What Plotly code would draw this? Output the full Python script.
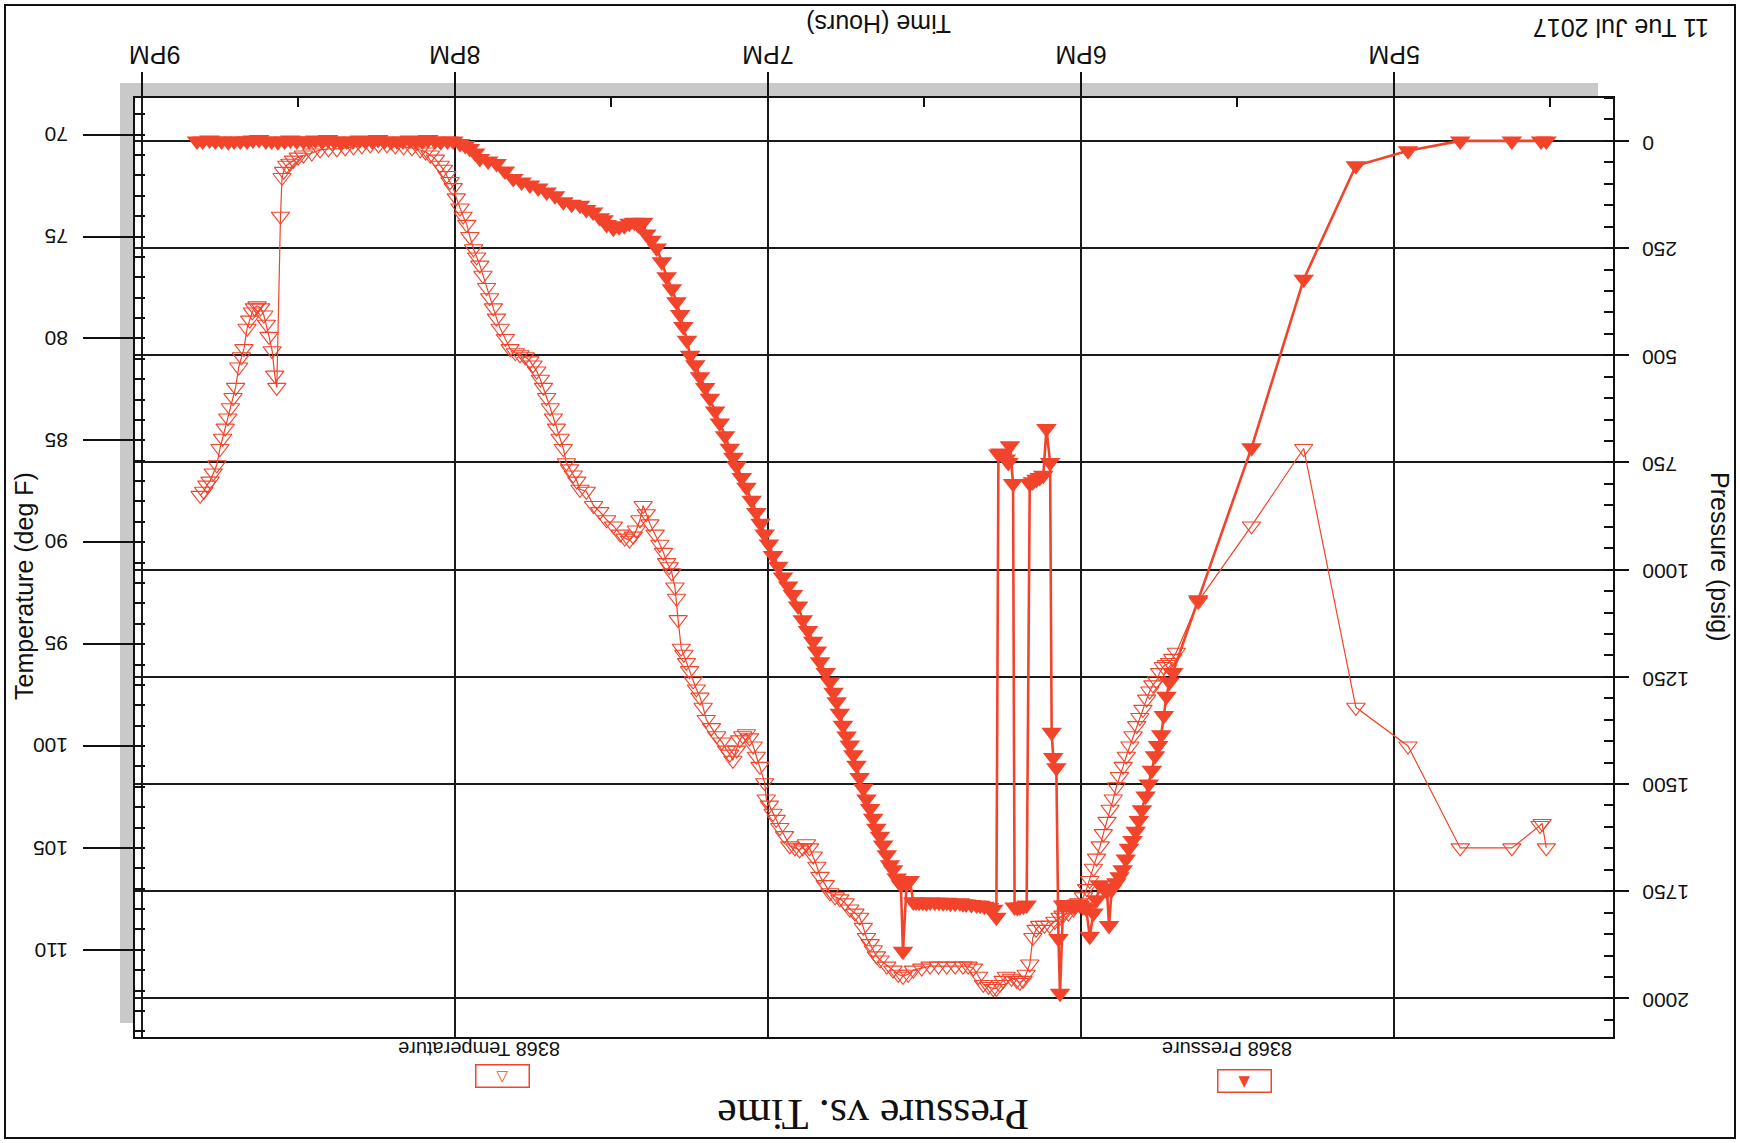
import plotly.graph_objects as go
import pandas as pd

# ---------------- data ----------------
BASE_TIME = pd.Timestamp("2017-07-11 17:00:00")   # minutes below are offsets from 5PM

pressure_minutes = [-29.2, -28.2, -22.6, -12.7, -2.7, 7.3, 17.3, 27.3, 37.5,
                    42.3, 43.0, 43.6, 44.1, 44.6, 45.2, 45.8, 46.4, 47.0, 47.6, 48.3, 48.9, 49.5,
                    50.1, 50.8, 51.4, 52.0, 52.6, 53.2, 54.1, 54.6, 55.0, 55.7, 56.4, 57.0, 57.6,
                    58.3, 59.0, 59.6, 60.2, 60.7, 61.2, 61.7, 62.1, 62.8, 63.4, 64.0, 64.3, 64.7,
                    65.3, 65.6, 65.9, 66.6, 67.2, 67.9, 68.5, 69.2, 69.8, 70.4, 71.0, 71.7, 72.2,
                    72.7, 73.0, 73.6, 73.9, 74.4, 74.9, 75.4, 75.8, 76.2, 76.8, 77.6, 78.5, 79.3,
                    80.0, 81.0, 82.0, 82.6, 83.2, 84.1, 85.0, 85.7, 86.4, 87.2, 88.0, 88.9, 89.6,
                    90.3, 91.0, 91.6, 92.1, 92.8, 93.4, 94.1, 94.5, 95.3, 96.0, 96.6, 97.2, 97.9,
                    98.5, 99.2, 99.8, 100.4, 101.1, 101.7, 102.4, 103.0, 103.6, 104.3, 104.9,
                    105.6, 106.2, 106.8, 107.4, 108.1, 108.9, 110.0, 110.6, 111.3, 112.3, 113.3,
                    114.2, 115.2, 116.1, 117.1, 118.0, 119.0, 119.8, 120.6, 121.4, 122.2, 123.1,
                    124.1, 125.0, 126.0, 126.6, 127.3, 128.2, 129.2, 130.1, 131.1, 132.0, 133.0,
                    133.9, 134.9, 135.5, 136.2, 136.8, 137.5, 138.4, 139.4, 140.3, 141.3, 142.3,
                    143.3, 143.9, 144.8, 145.6, 146.5, 147.5, 148.5, 149.6, 150.9, 151.5, 152.2,
                    153.5, 154.8, 156.0, 157.6, 159.2, 160.8, 162.4, 164.0, 165.6, 167.2, 168.8,
                    170.4, 172.0, 173.6, 175.2, 176.1, 177.1, 178.0, 179.0, 180.3, 181.4, 182.7,
                    183.8, 185.1, 186.2, 187.5, 188.6, 189.9, 191.1, 192.2, 193.5, 194.7, 195.8,
                    197.1, 198.2, 199.5, 200.7, 201.8, 203.1, 204.3, 205.4, 206.7, 207.9, 209.0,
                    210.3, 211.5, 212.6, 213.9, 215.1, 216.2, 217.5, 218.7, 219.8, 221.1, 222.3,
                    223.4, 224.7, 225.9, 227.0, 228.3, 229.4]
pressure_psig = [0, 0, 0, 0, 23, 58, 323, 716, 1070,
                 1240, 1262, 1295, 1340, 1385, 1410, 1434, 1468, 1500, 1528, 1560, 1585, 1610,
                 1632, 1650, 1675, 1700, 1716, 1730, 1746, 1830, 1750, 1742, 1735, 1770, 1801,
                 1855, 1790, 1786, 1782, 1780, 1785, 1784, 1782, 1781, 1782, 1988, 1860, 1462,
                 1438, 1379, 750, 671, 780, 785, 789, 795, 799, 1782, 1785, 1787, 1788,
                 1787, 799, 711, 750, 742, 730, 728, 730, 1811, 1792, 1788, 1785, 1783,
                 1782, 1781, 1780, 1779, 1777, 1778, 1778, 1776, 1777, 1776, 1776, 1775, 1777,
                 1776, 1776, 1775, 1775, 1725, 1733, 1890, 1735, 1719, 1700, 1688, 1665, 1642,
                 1622, 1603, 1580, 1557, 1535, 1510, 1485, 1456, 1432, 1409, 1388,
                 1363, 1335, 1308, 1286, 1262, 1240, 1215, 1190, 1167, 1142, 1117,
                 1085, 1058, 1038, 1017, 992, 967, 940, 917, 892, 867, 838,
                 808, 785, 758, 738, 717, 688, 658, 630, 600, 575, 550,
                 522, 500, 465, 433, 405, 375, 345, 317, 282, 250, 232,
                 217, 190, 196, 190, 192, 198, 200, 204, 195, 184, 179,
                 166, 160, 150, 148, 142, 128, 119, 110, 103, 96, 88,
                 70, 53, 47, 41, 28, 18, 11, 6, 0, 0, 2,
                 0, -3, 0, 0, -2, 0, 0, 2, 0, -3, 0,
                 0, -2, 0, 0, 2, 0, -3, 0, -2, 0, 0,
                 0, -2, 0, 2, 0, 0, -3, -2, 0, 0, 0,
                 2, 0, 0, -2, 0, 0]

temperature_minutes = [-29.2, -28.4, -28.0, -22.6, -12.7, -2.7, 7.3, 17.3, 27.3, 37.5,
                       41.7, 42.4, 43.0, 43.6, 44.2, 44.9, 45.5, 46.2, 46.8, 47.4, 48.1, 48.7,
                       49.3, 50.0, 50.6, 51.3, 51.9, 52.6, 53.2, 53.8, 54.4, 55.0, 55.7, 56.3,
                       57.0, 57.6, 58.3, 58.9, 59.5, 60.4, 61.4, 62.4, 63.4, 64.0, 65.0, 66.0,
                       67.0, 67.9, 68.6, 69.2, 69.8, 70.5, 71.1, 71.7, 72.3, 73.3, 74.3, 74.9,
                       75.5, 76.2, 76.8, 77.7, 78.7, 79.6, 80.6, 81.6, 82.6, 84.1, 85.7, 87.3,
                       88.9, 90.5, 92.1, 93.1, 94.1, 95.0, 96.0, 97.2, 98.5, 99.2, 99.8, 100.4,
                       101.1, 101.7, 102.4, 103.3, 104.3, 105.2, 106.2, 107.1, 108.1, 109.0, 110.0,
                       110.6, 111.3, 112.0, 112.6, 113.3, 113.9, 114.8, 115.8, 116.8, 117.7, 118.4,
                       119.0, 119.7, 120.3, 120.6, 121.5, 122.2, 122.8, 123.5, 124.1, 124.8, 125.4,
                       126.0, 126.7, 127.3, 127.9, 128.8, 129.8, 130.8, 131.8, 132.4, 133.0, 133.7,
                       134.3, 135.0, 135.6, 136.1, 136.6, 137.2, 137.5, 137.8, 138.4, 138.9, 139.4,
                       140.0, 140.7, 141.6, 142.6, 143.3, 143.9, 144.5, 145.2, 145.8, 146.5, 147.4,
                       148.3, 149.6, 150.9, 152.2, 153.4, 154.8, 156.0, 156.6, 157.3, 158.0, 158.6,
                       159.2, 159.8, 160.5, 161.1, 161.7, 162.4, 163.0, 163.6, 164.3, 165.0, 165.6,
                       166.5, 167.5, 168.4, 169.4, 170.3, 171.3, 172.0, 172.6, 173.3, 173.9, 174.6,
                       175.2, 175.8, 176.4, 177.1, 177.7, 178.4, 179.0, 179.7, 180.3, 180.9, 181.5,
                       182.2, 182.8, 183.7, 184.7, 185.6, 186.6, 188.2, 189.8, 191.4, 193.0, 194.6,
                       196.2, 197.8, 199.4, 201.0, 202.6, 204.2, 205.8, 207.4, 209.0, 210.0, 210.9,
                       211.6, 212.2, 212.8, 213.1, 213.4, 214.1, 214.5, 215.0, 215.6, 216.1, 216.6,
                       217.2, 217.9, 218.4, 218.8, 219.3, 219.8, 220.4, 220.9, 221.4, 222.0, 222.5,
                       223.0, 223.5, 224.0, 224.5, 225.0, 225.6, 226.3, 226.9, 227.5, 228.1, 228.8]
temperature_degF = [105.0, 103.8, 103.9, 105.0, 105.0, 100.0, 98.1, 85.4, 89.2, 92.9,
                    95.4, 95.7, 95.9, 96.0, 96.1, 96.4, 96.8, 97.0, 97.3, 97.7, 98.2, 98.6,
                    99.0, 99.5, 100.0, 100.5, 101.0, 101.5, 102.0, 102.6, 103.1, 103.7, 104.3, 104.9,
                    105.5, 106.0, 106.6, 107.0, 107.4, 107.7, 108.0, 108.2, 108.3, 108.4, 108.6, 108.8,
                    108.8, 108.8, 109.0, 109.4, 110.7, 111.2, 111.5, 111.6, 111.5, 111.4, 111.3, 111.5,
                    111.7, 111.9, 111.9, 111.8, 111.7, 111.3, 110.9, 110.8, 110.8, 110.8, 110.8, 110.8,
                    110.8, 110.9, 111.0, 111.2, 111.3, 111.2, 111.0, 110.8, 110.5, 110.3, 110.0, 109.7,
                    109.4, 108.9, 108.4, 108.2, 108.0, 107.7, 107.5, 107.4, 107.2, 106.8, 106.4,
                    105.9, 105.4, 105.0, 104.8, 105.0, 105.1, 105.0, 104.9, 104.4, 104.0, 103.6,
                    103.3, 102.9, 102.6, 101.8, 101.0, 100.5, 100.0, 99.6, 99.4, 99.5, 99.7,
                    100.2, 100.7, 100.4, 100.2, 99.8, 99.5, 99.1, 98.7, 98.1, 97.6, 97.2,
                    96.8, 96.3, 95.9, 95.5, 95.2, 93.8, 92.75, 92.2, 91.5, 91.2, 91.0,
                    90.5, 90.1, 89.6, 89.1, 88.6, 88.2, 88.9, 89.4, 89.7, 89.9, 89.8,
                    89.6, 89.2, 88.9, 88.5, 88.2, 87.5, 87.4, 87.0, 86.7, 86.4, 86.1,
                    85.4, 84.9, 84.4, 83.9, 83.4, 82.9, 82.4, 82.0, 81.6, 81.3, 81.1,
                    80.9, 80.8, 80.7, 80.5, 80.0, 79.5, 79.0, 78.5, 78.0, 77.5, 76.9,
                    76.4, 76.0, 75.6, 75.0, 74.4, 74.0, 73.6, 73.1, 72.6, 72.3, 72.0,
                    71.7, 71.5, 71.2, 71.0, 70.85, 70.75, 70.65, 70.6, 70.55, 70.5, 70.5,
                    70.5, 70.55, 70.6, 70.65, 70.7, 70.7, 70.75, 70.9, 71.0, 71.1, 71.25,
                    71.4, 71.5, 71.8, 72.1, 74.0, 82.4, 81.8, 80.6, 79.9, 79.3, 78.85,
                    78.5, 78.4, 78.5, 78.7, 79.1, 79.5, 80.5, 80.9, 81.4, 82.4, 82.9,
                    83.4, 83.9, 84.4, 84.9, 85.4, 86.2, 86.6, 87.0, 87.2, 87.5, 87.7]

hour_ticks = ["2017-07-11 17:00", "2017-07-11 18:00", "2017-07-11 19:00",
              "2017-07-11 20:00", "2017-07-11 21:00"]
hour_labels = ["5PM", "6PM", "7PM", "8PM", "9PM"]
half_hour_ticks = ["2017-07-11 16:30", "2017-07-11 17:30", "2017-07-11 18:30",
                   "2017-07-11 19:30", "2017-07-11 20:30"]
temperature_ticks = [70, 75, 80, 85, 90, 95, 100, 105, 110]
pressure_ticks = [0, 250, 500, 750, 1000, 1250, 1500, 1750, 2000]

chart_title = "Pressure vs. Time"
x_title = "Time (Hours)"
date_label = "11 Tue Jul 2017"
temp_title = "Temperature (deg F)"
press_title = "Pressure (psig)"
press_name = "8368 Pressure"
temp_name = "8368 Temperature"

# ---------------- styling / layout ----------------
W, H = 1740, 1143
L, R, T, B = 135, 1613, 98, 1037
RED = "#f2432b"
INK = "#111111"
SANS = "Liberation Sans, Arial, sans-serif"


def px(x):
    return (x - L) / (R - L)


def py(y):
    return (B - y) / (B - T)


temp_x = BASE_TIME + pd.to_timedelta(temperature_minutes, unit="m")
press_x = BASE_TIME + pd.to_timedelta(pressure_minutes, unit="m")

fig = go.Figure()
fig.add_trace(go.Scatter(
    x=temp_x, y=temperature_degF, yaxis="y", name=temp_name, mode="lines+markers",
    line=dict(color=RED, width=1.2),
    marker=dict(symbol="triangle-down-open", size=16, color=RED, line=dict(color=RED, width=1.1)),
))
fig.add_trace(go.Scatter(
    x=press_x, y=pressure_psig, yaxis="y2", name=press_name, mode="lines+markers",
    line=dict(color=RED, width=2.6),
    marker=dict(symbol="triangle-down", size=18, color=RED, line=dict(width=0)),
))

fig.update_layout(
    width=W, height=H,
    margin=dict(l=L, r=W - R, t=T, b=H - B, pad=0, autoexpand=False),
    paper_bgcolor="white", plot_bgcolor="white", showlegend=False,
    font=dict(family=SANS, color=INK),
    xaxis=dict(
        type="date", range=["2017-07-11 21:01:17", "2017-07-11 16:18:01"], side="top",
        tickmode="array", tickvals=hour_ticks, showticklabels=False,
        ticks="outside", ticklen=24, tickwidth=2, tickcolor=INK,
        showgrid=True, gridcolor="#1a1a1a", gridwidth=2,
        showline=True, linecolor=INK, linewidth=2, mirror=True, zeroline=False,
        minor=dict(tickmode="array", tickvals=half_hour_ticks, ticks="inside",
                   ticklen=9, tickwidth=2, tickcolor=INK, showgrid=False),
    ),
    yaxis=dict(
        range=[114.28, 68.2], side="left", tickmode="array", tickvals=temperature_ticks,
        showticklabels=False,
        ticks="outside", ticklen=50, tickwidth=2, tickcolor=INK,
        showgrid=False, zeroline=False,
        showline=True, linecolor=INK, linewidth=2, mirror=True,
        minor=dict(dtick=1, ticks="inside", ticklen=10, tickwidth=1.5, tickcolor=INK, showgrid=False),
    ),
    yaxis2=dict(
        range=[2090, -100], side="right", overlaying="y", tickmode="array", tickvals=pressure_ticks,
        showticklabels=False,
        ticks="outside", ticklen=14, tickwidth=2, tickcolor=INK,
        showgrid=True, gridcolor="#1a1a1a", gridwidth=2, zeroline=False,
        showline=True, linecolor=INK, linewidth=2,
        minor=dict(dtick=50, ticks="inside", ticklen=9, tickwidth=1.5, tickcolor=INK, showgrid=False),
    ),
)

shapes = [
    # grey drop shadow (top band and left band)
    dict(type="rect", xref="paper", yref="paper", x0=px(120), x1=px(1598), y0=py(98), y1=py(83),
         fillcolor="#c9c9c9", line=dict(width=0), layer="below"),
    dict(type="rect", xref="paper", yref="paper", x0=px(120), x1=px(134), y0=py(1023), y1=py(83),
         fillcolor="#c9c9c9", line=dict(width=0), layer="below"),
    # page frame
    dict(type="rect", xref="paper", yref="paper", x0=px(5), x1=px(1735), y0=py(1138), y1=py(5),
         line=dict(color=INK, width=2), fillcolor="rgba(0,0,0,0)", layer="below"),
]
fig.update_layout(shapes=shapes)

ann = [
    dict(text=chart_title, x=px(873), y=py(1115), textangle=180, xref="paper", yref="paper",
         font=dict(family="Liberation Serif, Times New Roman, serif", size=44, color=INK)),
    dict(text=x_title, x=px(879), y=py(24), textangle=180, xref="paper", yref="paper",
         font=dict(size=25, color=INK)),
    dict(text=date_label, x=px(1621), y=py(28), textangle=180, xref="paper", yref="paper",
         font=dict(size=25, color=INK)),
    dict(text=temp_title, x=px(24), y=py(586), textangle=-90, xref="paper", yref="paper",
         font=dict(size=25, color=INK)),
    dict(text=press_title, x=px(1720), y=py(557), textangle=90, xref="paper", yref="paper",
         font=dict(size=25, color=INK)),
    dict(text=press_name, x=px(1227), y=py(1049), textangle=180, xref="paper", yref="paper",
         font=dict(size=20, color=INK)),
    dict(text=temp_name, x=px(479), y=py(1049), textangle=180, xref="paper", yref="paper",
         font=dict(size=20, color=INK)),
    dict(text="\u25BC", x=px(1244), y=py(1081), width=50, height=19, xref="paper", yref="paper",
         bordercolor=RED, borderwidth=1.5, borderpad=1,
         font=dict(family="DejaVu Sans", size=15, color=RED)),
    dict(text="\u25BD", x=px(502), y=py(1076), width=50, height=19, xref="paper", yref="paper",
         bordercolor=RED, borderwidth=1.5, borderpad=1,
         font=dict(family="DejaVu Sans", size=15, color=RED)),
]
for a in ann:
    a.update(xanchor="center", yanchor="middle")

# upside-down tick labels placed through the axes' own scales
for val, lab in zip(hour_ticks, hour_labels):
    ann.append(dict(text=lab, x=val, xref="x", y=py(55), yref="paper", textangle=180,
                    xanchor="center", yanchor="middle", xshift=13 if lab == "9PM" else 0,
                    font=dict(size=25, color=INK)))
for v in temperature_ticks:
    ann.append(dict(text=str(v), x=px(70), xref="paper", y=v, yref="y", textangle=180,
                    xanchor="right", yanchor="middle", font=dict(size=21, color=INK)))
for v in pressure_ticks:
    ann.append(dict(text=str(v), x=px(1640), xref="paper", y=v, yref="y2", textangle=180,
                    xanchor="left", yanchor="middle", yshift=-2, font=dict(size=21, color=INK)))
for a in ann:
    a["showarrow"] = False
fig.update_layout(annotations=ann)

fig.write_html("out.html")
